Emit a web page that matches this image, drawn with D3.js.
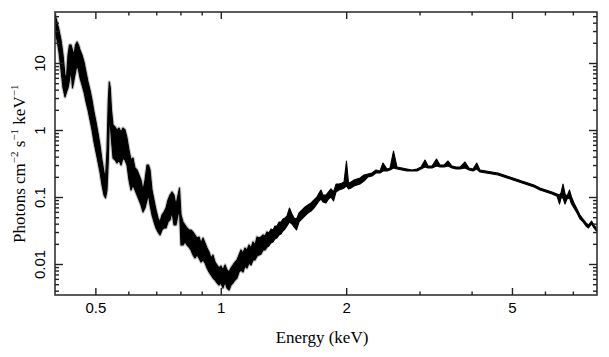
<!DOCTYPE html>
<html><head><meta charset="utf-8">
<script src="https://cdn.jsdelivr.net/npm/d3@7"></script>
<style>body{margin:0;background:#fff}</style>
</head><body><svg id="c" width="609" height="357"></svg>
<script>
// Energy (keV) of each sampled channel
const energy = [
0.400,0.4045,0.4089,0.4135,0.4181,0.4227,0.4262,0.4298,0.4334,0.4370,
0.4406,0.4443,0.4480,0.4517,0.4555,0.4593,0.4644,0.4695,0.4748,0.4800,
0.4854,0.4908,0.4962,0.5017,0.5073,0.5129,0.5186,0.5244,0.5288,0.5332,
0.5370,0.5400,0.5430,0.5466,0.5512,0.5573,0.5635,0.5697,0.5761,0.5825,
0.5890,0.5955,0.6021,0.6088,0.6156,0.6224,0.6294,0.6364,0.6434,0.6506,
0.6578,0.6651,0.6707,0.6763,0.6838,0.6914,0.6991,0.7068,0.7147,0.7226,
0.7306,0.7388,0.7470,0.7553,0.7637,0.7722,0.7807,0.7894,0.7960,0.8026,
0.8115,0.8206,0.8297,0.8389,0.8482,0.8577,0.8672,0.8768,0.8866,0.8964,
0.9064,0.9165,0.9267,0.9370,0.9474,0.9579,0.9686,0.9793,0.9902,1.001,
1.012,1.024,1.035,1.047,1.058,1.070,1.082,1.094,1.106,
1.118,1.131,1.143,1.156,1.169,1.182,1.195,1.208,1.222,1.235,
1.249,1.263,1.277,1.291,1.305,1.320,1.335,1.349,1.364,1.380,
1.395,1.410,1.426,1.442,1.462,1.482,1.499,1.520,1.541,1.567,
1.593,1.619,1.647,1.674,1.702,1.721,1.740,1.759,1.789,1.814,
1.839,1.865,1.891,1.922,1.954,1.976,2.003,2.026,2.054,2.088,
2.123,2.159,2.207,
2.256,2.307,2.358,2.411,2.451,2.506,2.548,2.598,2.649,2.723,
2.799,2.878,2.958,3.024,3.092,3.144,3.214,3.295,3.359,3.434,
3.511,3.590,3.670,3.752,3.857,3.943,4.031,4.115,4.190,4.332,
4.478,4.629,4.785,4.946,5.113,5.285,5.464,5.648,5.838,6.035,
6.239,6.414,6.503,6.557,6.630,6.704,6.778,6.872,6.949,7.045,
7.163,7.283,7.405,7.528,7.633,7.761,7.869,8.000];

// Upper envelope of the data (photons cm^-2 s^-1 keV^-1)
const fluxHi = [
53.9,40.9,31.1,22.0,13.2,6.62,5.97,13.2,18.6,18.6,
15.6,13.2,18.6,20.6,18.6,15.6,13.2,10.4,7.34,5.21,
3.95,2.80,1.86,1.32,0.902,0.597,0.357,0.236,0.192,0.503,
2.80,5.21,4.24,1.99,1.19,1.11,1.00,1.07,0.934,1.07,
1.00,0.760,0.503,0.357,0.382,0.271,0.253,0.213,0.179,0.127,
0.179,0.300,0.300,0.253,0.127,0.0902,0.0640,0.0486,0.0424,0.0539,
0.0597,0.0685,0.0902,0.107,0.119,0.107,0.0760,0.107,0.136,0.0539,
0.0424,0.0382,0.0345,0.0322,0.0322,0.0300,0.0271,0.0244,0.0253,0.0206,
0.0244,0.0206,0.0173,0.0151,0.0123,0.0136,0.0107,0.00966,0.00872,0.00934,
0.00814,0.00966,0.00814,0.00760,0.00872,0.00966,0.0107,0.0115,0.0136,
0.0162,0.0146,0.0173,0.0162,0.0192,0.0173,0.0213,0.0192,0.0253,0.0244,
0.0253,0.0271,0.0262,0.0300,0.0290,0.0333,0.0322,0.0369,0.0369,0.0424,
0.0424,0.0470,0.0486,0.0521,0.0685,0.0558,0.0486,0.0470,0.0577,0.0640,
0.0709,0.0760,0.0814,0.0902,0.100,0.115,0.127,0.107,0.107,0.119,
0.132,0.119,0.156,0.156,0.162,0.167,0.345,0.162,0.167,0.179,
0.186,0.192,0.213,
0.220,0.228,0.253,0.244,0.322,0.262,0.271,0.486,0.280,0.271,
0.262,0.253,0.262,0.280,0.357,0.290,0.290,0.369,0.300,0.300,
0.345,0.290,0.280,0.280,0.333,0.271,0.262,0.322,0.253,0.244,
0.236,0.228,0.213,0.199,0.186,0.173,0.162,0.151,0.136,0.127,
0.119,0.111,0.107,0.115,0.156,0.111,0.103,0.127,0.100,0.0814,
0.0662,0.0539,0.0470,0.0410,0.0382,0.0438,0.0382,0.0333];

// Lower envelope of the data
const fluxLo = [
29.0,22.0,14.6,7.86,4.24,3.11,3.69,4.24,5.58,7.86,
4.24,5.58,7.34,9.34,7.86,5.97,4.70,3.69,2.62,1.99,
1.41,1.00,0.662,0.470,0.333,0.236,0.151,0.107,0.0966,0.127,
0.357,1.41,1.19,0.709,0.382,0.357,0.322,0.357,0.300,0.382,
0.357,0.300,0.179,0.127,0.151,0.127,0.107,0.0902,0.0760,0.0597,
0.0685,0.0902,0.107,0.0760,0.0539,0.0424,0.0345,0.0300,0.0271,0.0322,
0.0345,0.0345,0.0424,0.0454,0.0597,0.0382,0.0382,0.0539,0.0640,0.0192,
0.0192,0.0213,0.0192,0.0179,0.0162,0.0136,0.0123,0.0136,0.0123,0.0107,
0.0115,0.0104,0.00872,0.00760,0.00685,0.00618,0.00577,0.00521,0.00486,0.00521,
0.00438,0.00539,0.00438,0.00409,0.00486,0.00521,0.00577,0.00618,0.00760,
0.00814,0.00760,0.00934,0.00872,0.0104,0.00966,0.0115,0.0115,0.0132,0.0136,
0.0141,0.0162,0.0162,0.0179,0.0186,0.0206,0.0213,0.0236,0.0244,0.0271,
0.0280,0.0311,0.0333,0.0369,0.0424,0.0395,0.0357,0.0322,0.0424,0.0470,
0.0521,0.0577,0.0618,0.0685,0.0786,0.0872,0.0934,0.0842,0.0814,0.0934,
0.100,0.0872,0.119,0.127,0.132,0.136,0.146,0.132,0.136,0.146,
0.151,0.156,0.173,
0.199,0.206,0.228,0.228,0.244,0.244,0.253,0.271,0.262,0.253,
0.244,0.244,0.244,0.262,0.280,0.271,0.271,0.290,0.280,0.280,
0.290,0.271,0.262,0.262,0.271,0.253,0.244,0.262,0.236,0.228,
0.220,0.213,0.199,0.186,0.173,0.162,0.151,0.141,0.127,0.119,
0.111,0.103,0.0786,0.0966,0.0966,0.0786,0.0934,0.0966,0.0786,0.0685,
0.0577,0.0470,0.0424,0.0369,0.0345,0.0395,0.0345,0.0300];

const xMajorTicks = [0.5, 1, 2, 5];
const xTickLabels = ["0.5", "1", "2", "5"];
const xMinorTicks = [0.6, 0.7, 0.8, 0.9, 3, 4, 6, 7];
const yMajorTicks = [0.01, 0.1, 1, 10];
const yTickLabels = ["0.01", "0.1", "1", "10"];
const yMinorTicks = [0.004,0.005,0.006,0.007,0.008,0.009,
  0.02,0.03,0.04,0.05,0.06,0.07,0.08,0.09,
  0.2,0.3,0.4,0.5,0.6,0.7,0.8,0.9,
  2,3,4,5,6,7,8,9,20,30,40,50];
const xDomain = [0.4, 8];
const yDomain = [0.003447, 57.7];
const xTitle = "Energy (keV)";
const yTitleParts = [["Photons cm", false], ["\u22122", true], [" s", false], ["\u22121", true], [" keV", false], ["\u22121", true]];

const L = 55, R = 597, T = 12, B = 295;
const svg = d3.select("#c");
const x = d3.scaleLog().domain(xDomain).range([L, R]);
const y = d3.scaleLog().domain(yDomain).range([B, T]);

const data = energy.map((e, i) => ({e, hi: fluxHi[i], lo: fluxLo[i]}));

svg.append("clipPath").attr("id", "clip")
  .append("rect").attr("x", L).attr("y", T).attr("width", R - L).attr("height", B - T);

const area = d3.area().x(d => x(d.e)).y0(d => y(d.lo)).y1(d => y(d.hi)).curve(d3.curveLinear);
const g = svg.append("g").attr("clip-path", "url(#clip)");
// error halo (grey) on the soft part
g.append("path").datum(data.filter(d => d.e <= 1.3))
  .attr("d", area).attr("fill", "#b8b8b8").attr("stroke", "#c4c4c4").attr("stroke-width", 3.2)
  .attr("stroke-linejoin", "round");
g.append("path").datum(data)
  .attr("d", area).attr("fill", "#000").attr("stroke", "#000").attr("stroke-width", 1.1)
  .attr("stroke-linejoin", "round");

// frame
svg.append("rect").attr("x", L).attr("y", T).attr("width", R - L).attr("height", B - T)
  .attr("fill", "none").attr("stroke", "#333").attr("stroke-width", 1.6);

function styleAxis(sel) {
  sel.select(".domain").remove();
  sel.selectAll(".tick line").attr("stroke", "#222").attr("stroke-width", 1.4);
}
const font = "'Liberation Sans', Arial, Helvetica, sans-serif";

// bottom
svg.append("g").attr("transform", `translate(0,${B})`)
  .call(d3.axisBottom(x).tickValues(xMajorTicks).tickSize(-7).tickPadding(7)
    .tickFormat((d, i) => xTickLabels[i]))
  .call(styleAxis)
  .call(s => s.selectAll("text").attr("font-family", font).attr("font-size", 15).attr("fill", "#000"));
svg.append("g").attr("transform", `translate(0,${B})`)
  .call(d3.axisBottom(x).tickValues(xMinorTicks).tickSize(-3.5).tickFormat(""))
  .call(styleAxis);
// top
svg.append("g").attr("transform", `translate(0,${T})`)
  .call(d3.axisTop(x).tickValues(xMajorTicks).tickSize(-7).tickFormat(""))
  .call(styleAxis);
svg.append("g").attr("transform", `translate(0,${T})`)
  .call(d3.axisTop(x).tickValues(xMinorTicks).tickSize(-3.5).tickFormat(""))
  .call(styleAxis);
// left
svg.append("g").attr("transform", `translate(${L},0)`)
  .call(d3.axisLeft(y).tickValues(yMajorTicks).tickSize(-8).tickFormat((d, i) => yTickLabels[i]))
  .call(styleAxis)
  .call(s => s.selectAll("text")
    .attr("x", 0).attr("dy", null).attr("y", 0)
    .attr("transform", "translate(-10,0) rotate(-90)")
    .attr("text-anchor", "middle")
    .attr("font-family", font).attr("font-size", 15).attr("fill", "#000"));
svg.append("g").attr("transform", `translate(${L},0)`)
  .call(d3.axisLeft(y).tickValues(yMinorTicks).tickSize(-4).tickFormat(""))
  .call(styleAxis);
// right
svg.append("g").attr("transform", `translate(${R},0)`)
  .call(d3.axisRight(y).tickValues(yMajorTicks).tickSize(-8).tickFormat(""))
  .call(styleAxis);
svg.append("g").attr("transform", `translate(${R},0)`)
  .call(d3.axisRight(y).tickValues(yMinorTicks).tickSize(-4).tickFormat(""))
  .call(styleAxis);

// titles
const serif = "'Liberation Serif', 'Times New Roman', Times, serif";
svg.append("text").attr("x", 322).attr("y", 343).attr("text-anchor", "middle")
  .attr("font-family", serif).attr("font-size", 17).attr("fill", "#000").text(xTitle);

const yt = svg.append("text").attr("transform", "translate(25,243) rotate(-90)")
  .attr("text-anchor", "start").attr("font-family", serif).attr("font-size", 17).attr("fill", "#000");
let raised = false;
yTitleParts.forEach(([t, sup]) => {
  let dy = 0;
  if (sup && !raised) { dy = -7; raised = true; }
  else if (!sup && raised) { dy = 7; raised = false; }
  yt.append("tspan").attr("font-size", sup ? 11 : 17).attr("dy", dy).text(t);
});
</script>
</body></html>
